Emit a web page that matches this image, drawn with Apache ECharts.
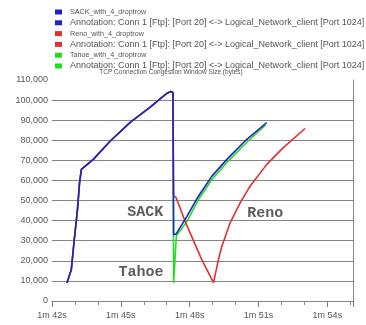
<!DOCTYPE html>
<html>
<head>
<meta charset="utf-8">
<script src="https://cdn.jsdelivr.net/npm/echarts@6/dist/echarts.min.js"></script>
<style>
html,body{margin:0;padding:0;background:#fff;}
#chart{width:366px;height:325px;}
</style>
</head>
<body>
<div id="chart"></div>
<script>
// ---- data ----
const titleText = 'TCP Connection Congestion Window Size (bytes)';
const annotationText = 'Annotation: Conn 1 [Ftp]: [Port 20] <-> Logical_Network_client [Port 1024]';
const seriesNames = ['SACK_with_4_droptrow', 'Reno_with_4_droptrow', 'Tahoe_with_4_droptrow'];

// time in seconds, window size in bytes
const sackT = [102.65, 102.84, 102.97, 103.11, 103.20, 103.28, 103.80, 104.54, 105.42, 106.28, 107.00, 107.17, 107.27, 107.30, 107.42, 107.88, 108.38, 108.97, 109.62, 110.49, 111.36];
const sackV = [9000, 15500, 30500, 45500, 58800, 65500, 70500, 79650, 89000, 96500, 103300, 104300, 103800, 33000, 33500, 42150, 52150, 62150, 70500, 80500, 88850];

const renoT = [102.65, 102.84, 102.97, 103.11, 103.20, 103.28, 103.80, 104.54, 105.42, 106.28, 107.00, 107.17, 107.27, 107.30, 107.41, 107.80, 108.53, 109.04, 109.25, 109.40, 109.76, 110.20, 110.63, 111.36, 112.08, 113.03];
const renoV = [9000, 15500, 30500, 45500, 58800, 65500, 70500, 79650, 89000, 96500, 103300, 104300, 103800, 52500, 51350, 39650, 20500, 9150, 20500, 27150, 38850, 48850, 57150, 68000, 76350, 85850];

const tahoeT = [102.65, 102.84, 102.97, 103.11, 103.20, 103.28, 103.80, 104.54, 105.42, 106.28, 107.00, 107.17, 107.27, 107.30, 107.42, 107.88, 108.38, 108.97, 109.62, 110.49, 111.30];
const tahoeV = [9000, 15500, 30500, 45500, 58800, 65500, 70500, 79650, 89000, 96500, 103300, 104300, 103800, 9000, 32500, 39500, 50500, 60500, 69000, 79000, 87500];

const textLabels = ['SACK', 'Tahoe', 'Reno'];
const textLabelT = [106.06, 105.88, 111.29];
const textLabelV = [44150, 14150, 43500];

const xTickLabels = ['1m 42s', '1m 45s', '1m 48s', '1m 51s', '1m 54s'];
const xMin = 102, xMax = 115.13, xStep = 3;
const yMax = 110000, yStep = 10000;

const BLUE = '#2020cc', RED = '#e03030', GREEN = '#22dd22';

function pairs(t, v) { return t.map((x, i) => [x, v[i]]); }

const chart = echarts.init(document.getElementById('chart'), null, {renderer: 'canvas'});

const lineBase = {type: 'line', symbol: 'none', smooth: false, lineStyle: {width: 1.6}, silent: true};

chart.setOption({
  animation: false,
  backgroundColor: '#fff',
  title: {
    text: titleText, left: 171, textAlign: 'center', top: 69, padding: 0,
    textStyle: {fontSize: 6.5, fontWeight: 'normal', color: '#555', fontFamily: 'Liberation Sans'}
  },
  legend: {
    orient: 'vertical', left: 55, top: 8, padding: 0,
    itemWidth: 7, itemHeight: 5, itemGap: 2.3,
    icon: 'rect', selectedMode: false,
    data: ['sack', 'ann1', 'reno', 'ann2', 'tahoe', 'ann3'],
    formatter: function (n) {
      if (n.indexOf('ann') === 0) return '{a|' + annotationText + '}';
      if (n === 'sack') return '{n|' + seriesNames[0] + '}';
      if (n === 'reno') return '{n|' + seriesNames[1] + '}';
      return '{n|' + seriesNames[2] + '}';
    },
    textStyle: {
      fontSize: 7, lineHeight: 8, color: '#555', fontFamily: 'Liberation Sans', padding: [0, 0, 0, 3],
      rich: {
        n: {fontSize: 7.2, lineHeight: 8, color: '#555', fontFamily: 'Liberation Sans'},
        a: {fontSize: 9, lineHeight: 8, color: '#555', fontFamily: 'Liberation Sans'}
      }
    }
  },
  grid: {left: 52, right: 12.7, top: 80, bottom: 24, containLabel: false},
  xAxis: {
    type: 'value', min: xMin, max: xMax, interval: xStep,
    axisLine: {show: true, lineStyle: {color: '#888', width: 1}},
    axisTick: {show: true, length: 6, lineStyle: {color: '#777'}},
    minorTick: {show: true, splitNumber: 3, length: 4, lineStyle: {color: '#888'}},
    splitLine: {show: false},
    axisLabel: {
      fontSize: 9, color: '#555', fontFamily: 'Liberation Sans', margin: 10,
      showMaxLabel: false,
      formatter: function (v) {
        const i = Math.round((v - xMin) / xStep);
        return Math.abs(v - (xMin + i * xStep)) < 1e-6 ? (xTickLabels[i] || '') : '';
      }
    }
  },
  yAxis: [{
    type: 'value', min: 0, max: yMax, interval: yStep,
    axisLine: {show: false}, axisTick: {show: false},
    splitLine: {show: true, showMaxLine: false, lineStyle: {color: '#858585', width: 1}},
    axisLabel: {
      fontSize: 9, color: '#555', fontFamily: 'Liberation Sans', margin: 4,
      formatter: function (v) { return v.toLocaleString('en-US'); }
    }
  }, {
    type: 'value', min: 0, max: yMax, interval: yStep, position: 'right',
    axisLine: {show: true, lineStyle: {color: '#888', width: 1}},
    axisTick: {show: false}, axisLabel: {show: false}, splitLine: {show: false}
  }],
  series: [
    Object.assign({}, lineBase, {name: 'tahoe', color: GREEN, data: pairs(tahoeT, tahoeV), z: 2}),
    Object.assign({}, lineBase, {name: 'reno', color: RED, data: pairs(renoT, renoV), z: 3}),
    Object.assign({}, lineBase, {name: 'sack', color: BLUE, data: pairs(sackT, sackV), z: 4}),
    Object.assign({}, lineBase, {name: 'ann1', color: BLUE, data: []}),
    Object.assign({}, lineBase, {name: 'ann2', color: RED, data: []}),
    Object.assign({}, lineBase, {name: 'ann3', color: GREEN, data: []}),
    {
      type: 'scatter', name: 'labels', symbolSize: 0, silent: true, z: 5,
      data: textLabels.map((s, i) => [textLabelT[i], textLabelV[i], s]),
      label: {
        show: true, position: 'inside',
        formatter: function (p) { return p.value[2]; },
        fontSize: 15, fontWeight: 'bold', color: '#333', fontFamily: 'Liberation Mono'
      }
    }
  ]
});
</script>
</body>
</html>
